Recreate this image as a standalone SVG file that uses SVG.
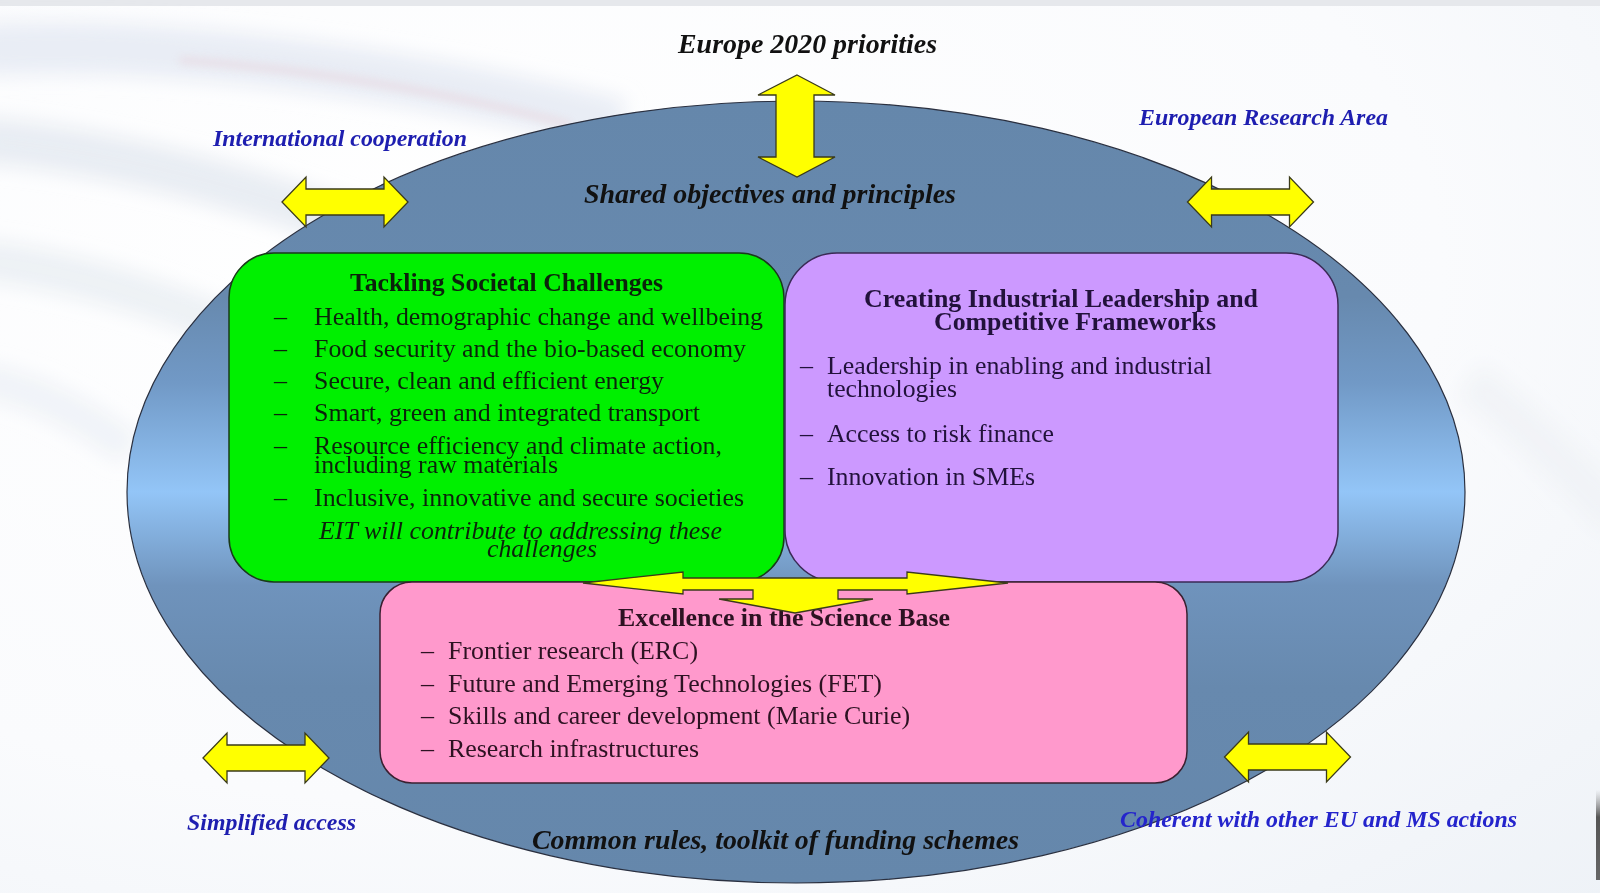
<svg xmlns="http://www.w3.org/2000/svg" width="1600" height="893" viewBox="0 0 1600 893">
<defs>
<style>
.lbl{font-family:"Liberation Serif","Times New Roman",serif;font-weight:bold;font-style:italic;}
.blk{font-size:28px;fill:#111;}
.blu{font-size:24px;fill:#1e1eb0;}
.ttl{font-family:"Liberation Serif","Times New Roman",serif;font-weight:bold;font-size:26px;}
.itm{font-family:"Liberation Serif","Times New Roman",serif;font-size:26px;}
.it{font-style:italic;}
.g{fill:#0b230b;}
.p{fill:#22123c;}
.k{fill:#2d1222;}
.arrow{fill:#ffff00;stroke:#3a3a1a;stroke-width:1.3;stroke-linejoin:miter;}
</style>
<linearGradient id="ellG" x1="0" y1="0" x2="0" y2="1">
<stop offset="0" stop-color="#6587ab"/>
<stop offset="0.25" stop-color="#6789ae"/>
<stop offset="0.36" stop-color="#7199c6"/>
<stop offset="0.5" stop-color="#93c5f7"/>
<stop offset="0.62" stop-color="#6f93bc"/>
<stop offset="0.75" stop-color="#6789ae"/>
<stop offset="1" stop-color="#6587ab"/>
</linearGradient>
<radialGradient id="bgG" cx="0.3" cy="0.3" r="1">
<stop offset="0" stop-color="#ffffff"/>
<stop offset="0.6" stop-color="#fafbfd"/>
<stop offset="1" stop-color="#eef2f7"/>
</radialGradient>
<linearGradient id="edgeG" x1="0" y1="0" x2="0" y2="1">
<stop offset="0" stop-color="#888" stop-opacity="0"/>
<stop offset="0.3" stop-color="#555"/>
<stop offset="1" stop-color="#666"/>
</linearGradient>
<filter id="blur" x="-20%" y="-50%" width="140%" height="200%">
<feGaussianBlur stdDeviation="10"/>
</filter>
<filter id="blurS" x="-20%" y="-50%" width="140%" height="200%">
<feGaussianBlur stdDeviation="4"/>
</filter>
<path id="hArrow" d="M-63,0 L-39,-25 L-39,-13 L39,-13 L39,-25 L63,0 L39,25 L39,13 L-39,13 L-39,25 Z"/>
</defs>

<g id="background">
<rect x="0" y="0" width="1600" height="893" fill="url(#bgG)"/>
<rect x="0" y="0" width="1600" height="6" fill="#e6e8ec"/>
<g filter="url(#blur)" fill="none">
<path d="M-20,50 C150,40 400,70 620,125" stroke="#e4e8f2" stroke-width="50" opacity="0.8"/>
<path d="M-20,140 C120,150 300,200 470,270" stroke="#e0e6ee" stroke-width="45" opacity="0.7"/>
<path d="M-20,260 C80,270 200,310 300,360" stroke="#e6ebf1" stroke-width="40" opacity="0.7"/>
<path d="M-20,380 C40,390 90,420 130,450" stroke="#e8edf3" stroke-width="35" opacity="0.6"/>
<path d="M1470,380 C1520,420 1570,470 1620,520" stroke="#eef1f5" stroke-width="40" opacity="0.7"/>
</g>
<path d="M180,60 C320,70 460,95 570,125" fill="none" stroke="#e8d8e0" stroke-width="6" filter="url(#blurS)" opacity="0.8"/>
<rect x="1596" y="790" width="4" height="90" fill="url(#edgeG)"/>
</g>

<g id="frame">
<ellipse cx="796" cy="492" rx="669" ry="391" fill="url(#ellG)" stroke="#2a3040" stroke-width="1.2"/>
</g>

<g id="label-europe2020">
<text class="lbl blk" x="678" y="53" textLength="259" lengthAdjust="spacingAndGlyphs">Europe 2020 priorities</text>
</g>
<g id="label-shared">
<text class="lbl blk" x="584" y="203" textLength="372" lengthAdjust="spacingAndGlyphs">Shared objectives and principles</text>
</g>
<g id="label-common">
<text class="lbl blk" x="532" y="849" textLength="487" lengthAdjust="spacingAndGlyphs">Common rules, toolkit of funding schemes</text>
</g>
<g id="label-international">
<text class="lbl blu" x="213" y="146" textLength="254" lengthAdjust="spacingAndGlyphs">International cooperation</text>
</g>
<g id="label-era">
<text class="lbl blu" x="1139" y="125" textLength="249" lengthAdjust="spacingAndGlyphs">European Research Area</text>
</g>
<g id="label-simplified">
<text class="lbl blu" x="187" y="830" textLength="169" lengthAdjust="spacingAndGlyphs">Simplified access</text>
</g>
<g id="label-coherent">
<text class="lbl blu" x="1120" y="827" textLength="397" lengthAdjust="spacingAndGlyphs" style="fill:#2424cc">Coherent with other EU and MS actions</text>
</g>

<g id="node-societal">
<rect x="229" y="253" width="555" height="329" rx="45" ry="45" fill="#00f000" stroke="#1a3a1a" stroke-width="1.5"/>
<text class="ttl g" x="350" y="291" textLength="313" lengthAdjust="spacingAndGlyphs">Tackling Societal Challenges</text>
<g class="itm g">
<text x="274" y="325">–</text><text x="314" y="325" textLength="449" lengthAdjust="spacingAndGlyphs">Health, demographic change and wellbeing</text>
<text x="274" y="357">–</text><text x="314" y="357" textLength="432" lengthAdjust="spacingAndGlyphs">Food security and the bio-based economy</text>
<text x="274" y="389">–</text><text x="314" y="389" textLength="350" lengthAdjust="spacingAndGlyphs">Secure, clean and efficient energy</text>
<text x="274" y="421">–</text><text x="314" y="421" textLength="386" lengthAdjust="spacingAndGlyphs">Smart, green and integrated transport</text>
<text x="274" y="454">–</text><text x="314" y="454" textLength="408" lengthAdjust="spacingAndGlyphs">Resource efficiency and climate action,</text>
<text x="314" y="473" textLength="244" lengthAdjust="spacingAndGlyphs">including raw materials</text>
<text x="274" y="506">–</text><text x="314" y="506" textLength="430" lengthAdjust="spacingAndGlyphs">Inclusive, innovative and secure societies</text>
<text class="it" x="319" y="539" textLength="403" lengthAdjust="spacingAndGlyphs">EIT will contribute to addressing these</text>
<text class="it" x="487" y="557" textLength="110" lengthAdjust="spacingAndGlyphs">challenges</text>
</g>
</g>

<g id="node-industrial">
<rect x="785" y="253" width="553" height="329" rx="52" ry="52" fill="#cc99ff" stroke="#3a2a55" stroke-width="1.5"/>
<text class="ttl p" x="864" y="307" textLength="394" lengthAdjust="spacingAndGlyphs">Creating Industrial Leadership and</text>
<text class="ttl p" x="934" y="330" textLength="282" lengthAdjust="spacingAndGlyphs">Competitive Frameworks</text>
<g class="itm p">
<text x="800" y="374">–</text><text x="827" y="374" textLength="385" lengthAdjust="spacingAndGlyphs">Leadership in enabling and industrial</text>
<text x="827" y="397" textLength="130" lengthAdjust="spacingAndGlyphs">technologies</text>
<text x="800" y="442">–</text><text x="827" y="442" textLength="227" lengthAdjust="spacingAndGlyphs">Access to risk finance</text>
<text x="800" y="485">–</text><text x="827" y="485" textLength="208" lengthAdjust="spacingAndGlyphs">Innovation in SMEs</text>
</g>
</g>

<g id="node-science">
<rect x="380" y="582" width="807" height="201" rx="32" ry="32" fill="#ff99cc" stroke="#3a2030" stroke-width="1.5"/>
<text class="ttl k" x="618" y="626" textLength="332" lengthAdjust="spacingAndGlyphs">Excellence in the Science Base</text>
<g class="itm k">
<text x="421" y="659">–</text><text x="448" y="659" textLength="250" lengthAdjust="spacingAndGlyphs">Frontier research (ERC)</text>
<text x="421" y="692">–</text><text x="448" y="692" textLength="434" lengthAdjust="spacingAndGlyphs">Future and Emerging Technologies (FET)</text>
<text x="421" y="724">–</text><text x="448" y="724" textLength="462" lengthAdjust="spacingAndGlyphs">Skills and career development (Marie Curie)</text>
<text x="421" y="757">–</text><text x="448" y="757" textLength="251" lengthAdjust="spacingAndGlyphs">Research infrastructures</text>
</g>
</g>

<g id="connectors">
<path class="arrow" d="M797,75 L835,95 L814,95 L814,157 L835,157 L797,177 L758,157 L776,157 L776,95 L758,95 Z"/>
<use href="#hArrow" class="arrow" transform="translate(345,202)"/>
<use href="#hArrow" class="arrow" transform="translate(1250.5,202)"/>
<use href="#hArrow" class="arrow" transform="translate(266,758)"/>
<use href="#hArrow" class="arrow" transform="translate(1287.5,757)"/>
<path class="arrow" d="M583,583 L683,572 L683,578 L907,578 L907,572 L1008,583 L907,594 L907,590 L838,590 L838,599 L873,599 L795,613 L719,599 L753,599 L753,590 L683,590 L683,594 Z"/>
</g>
</svg>
